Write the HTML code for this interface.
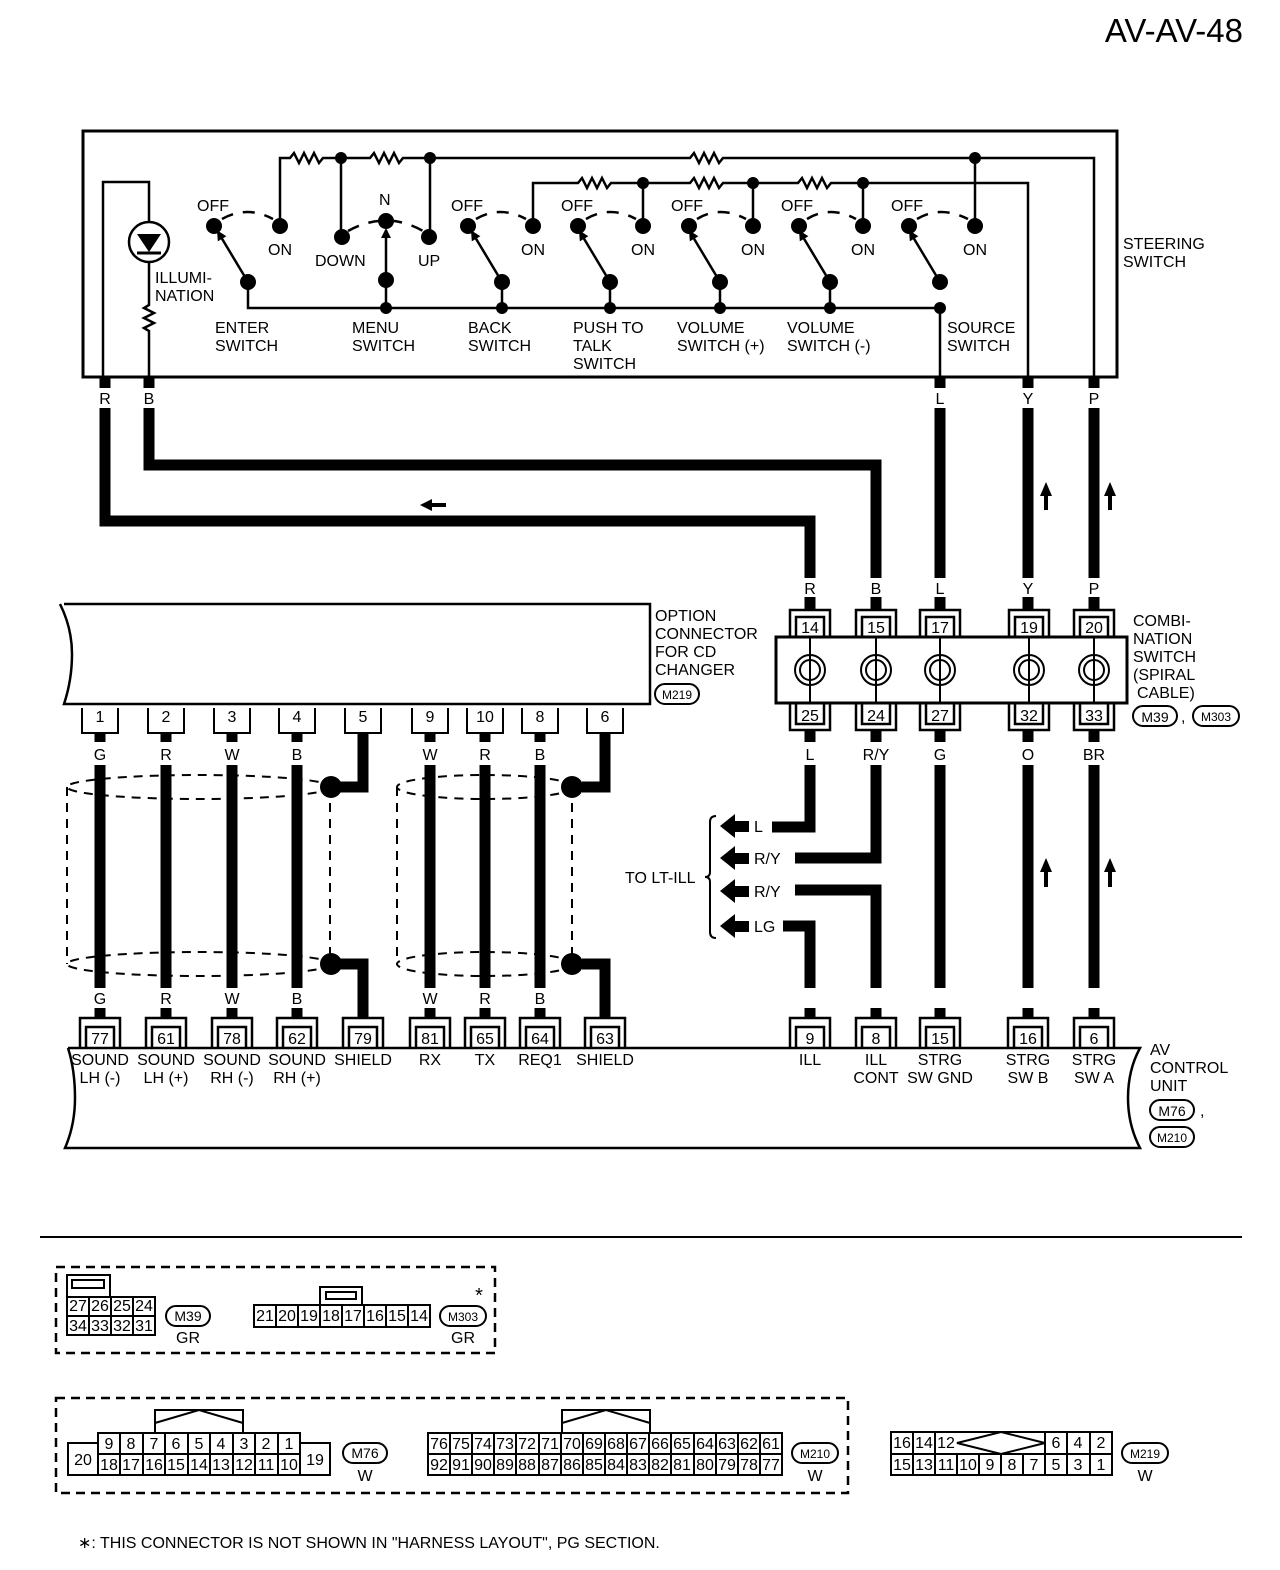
<!DOCTYPE html>
<html><head><meta charset="utf-8"><style>
html,body{margin:0;padding:0;background:#fff}
svg{display:block}
text{font-family:"Liberation Sans",Arial,sans-serif;font-size:16px;fill:#000}
</style></head><body>
<svg width="1280" height="1570" viewBox="0 0 1280 1570" xmlns="http://www.w3.org/2000/svg">
<defs>
<marker id="ah" markerWidth="10" markerHeight="10" refX="8" refY="5" orient="auto" markerUnits="userSpaceOnUse"><path d="M0,0 L10,5 L0,10 z" fill="#000"/></marker>
</defs>
<text x="1243" y="42" text-anchor="end" style="font-size:33px">AV-AV-48</text>

<rect x="83" y="131" width="1034" height="246" fill="none" stroke="#000" stroke-width="3"/>
<g fill="none" stroke="#000" stroke-width="2.5">
<path d="M103 377 V182 H149 V222"/>
<circle cx="149" cy="242" r="20"/>
<path d="M149 262 V305 l-5 3 l10 5 l-10 5 l10 5 l-10 5 l5 3 V377"/>
<path d="M280 226 V158 H290 l4 -5 l5 10 l5 -10 l5 10 l5 -10 l5 10 l4 -5 H370 l4 -5 l5 10 l5 -10 l5 10 l5 -10 l5 10 l4 -5 H690 l4 -5 l5 10 l5 -10 l5 10 l5 -10 l5 10 l4 -5 H1094 V377"/>
<path d="M341 158 V237 M430 158 V237 M975 158 V226"/>
<path d="M533 226 V183 H578 l4 -5 l5 10 l5 -10 l5 10 l5 -10 l5 10 l4 -5 H690 l4 -5 l5 10 l5 -10 l5 10 l5 -10 l5 10 l4 -5 H798 l4 -5 l5 10 l5 -10 l5 10 l5 -10 l5 10 l4 -5 H1028 V377"/>
<path d="M643 183 V226 M753 183 V226 M863 183 V226"/>
<path d="M248 282 V308 H940 V377"/>
<path d="M386 280 V308 M502 282 V308 M610 282 V308 M720 282 V308 M830 282 V308"/>
<path d="M248 282 L218 232" marker-end="url(#ah)"/>
<path d="M502 282 L472 232" marker-end="url(#ah)"/>
<path d="M610 282 L580 232" marker-end="url(#ah)"/>
<path d="M720 282 L690 232" marker-end="url(#ah)"/>
<path d="M830 282 L800 232" marker-end="url(#ah)"/>
<path d="M940 282 L910 232" marker-end="url(#ah)"/>
<path d="M386 280 V230" marker-end="url(#ah)"/>
</g>
<g fill="none" stroke="#000" stroke-width="2.5" stroke-dasharray="12 10">
<path d="M222 219 Q247 205 273 219"/>
<path d="M476 219 Q500 205 526 219"/>
<path d="M586 219 Q610 205 636 219"/>
<path d="M697 219 Q720 205 746 219"/>
<path d="M807 219 Q830 205 856 219"/>
<path d="M917 219 Q940 205 968 219"/>
<path d="M348 231 Q386 210 423 231"/>
</g>
<path d="M137 234 H161 L149 252 Z" fill="#000"/>
<path d="M137 253 H161" stroke="#000" stroke-width="3"/>
<g fill="#000">
<circle cx="341" cy="158" r="6"/><circle cx="430" cy="158" r="6"/><circle cx="975" cy="158" r="6"/>
<circle cx="643" cy="183" r="6"/><circle cx="753" cy="183" r="6"/><circle cx="863" cy="183" r="6"/>
<circle cx="386" cy="308" r="6"/><circle cx="502" cy="308" r="6"/><circle cx="610" cy="308" r="6"/><circle cx="720" cy="308" r="6"/><circle cx="830" cy="308" r="6"/><circle cx="940" cy="308" r="6"/>
<circle cx="214" cy="226" r="8"/><circle cx="280" cy="226" r="8"/><circle cx="248" cy="282" r="8"/>
<circle cx="342" cy="237" r="8"/><circle cx="386" cy="221" r="8"/><circle cx="429" cy="237" r="8"/><circle cx="386" cy="280" r="8"/>
<circle cx="468" cy="226" r="8"/><circle cx="533" cy="226" r="8"/><circle cx="502" cy="282" r="8"/>
<circle cx="578" cy="226" r="8"/><circle cx="643" cy="226" r="8"/><circle cx="610" cy="282" r="8"/>
<circle cx="689" cy="226" r="8"/><circle cx="753" cy="226" r="8"/><circle cx="720" cy="282" r="8"/>
<circle cx="799" cy="226" r="8"/><circle cx="863" cy="226" r="8"/><circle cx="830" cy="282" r="8"/>
<circle cx="909" cy="226" r="8"/><circle cx="975" cy="226" r="8"/><circle cx="940" cy="282" r="8"/>
</g>
<g>
<text x="197" y="211">OFF</text><text x="268" y="255">ON</text>
<text x="379" y="205">N</text><text x="315" y="266">DOWN</text><text x="418" y="266">UP</text>
<text x="451" y="211">OFF</text><text x="521" y="255">ON</text>
<text x="561" y="211">OFF</text><text x="631" y="255">ON</text>
<text x="671" y="211">OFF</text><text x="741" y="255">ON</text>
<text x="781" y="211">OFF</text><text x="851" y="255">ON</text>
<text x="891" y="211">OFF</text><text x="963" y="255">ON</text>
<text x="155" y="283">ILLUMI-</text><text x="155" y="301">NATION</text>
<text x="215" y="333">ENTER</text><text x="215" y="351">SWITCH</text>
<text x="352" y="333">MENU</text><text x="352" y="351">SWITCH</text>
<text x="468" y="333">BACK</text><text x="468" y="351">SWITCH</text>
<text x="573" y="333">PUSH TO</text><text x="573" y="351">TALK</text><text x="573" y="369">SWITCH</text>
<text x="677" y="333">VOLUME</text><text x="677" y="351">SWITCH (+)</text>
<text x="787" y="333">VOLUME</text><text x="787" y="351">SWITCH (-)</text>
<text x="947" y="333">SOURCE</text><text x="947" y="351">SWITCH</text>
<text x="1123" y="249">STEERING</text><text x="1123" y="267">SWITCH</text>
</g>

<g fill="none" stroke="#000" stroke-width="11">
<path d="M105 377 V388 M149 377 V388 M940 377 V388 M1028 377 V388 M1094 377 V388"/>
<path d="M105 408 V521 H810 V578"/>
<path d="M149 408 V465 H876 V578"/>
<path d="M940 408 V578 M1028 408 V578 M1094 408 V578"/>
<path d="M810 597 V610 M876 597 V610 M940 597 V610 M1028 597 V610 M1094 597 V610"/>
</g>
<g text-anchor="middle">
<text x="105" y="404">R</text><text x="149" y="404">B</text><text x="940" y="404">L</text><text x="1028" y="404">Y</text><text x="1094" y="404">P</text>
<text x="810" y="594">R</text><text x="876" y="594">B</text><text x="940" y="594">L</text><text x="1028" y="594">Y</text><text x="1094" y="594">P</text>
</g>
<path d="M420 505 L432 499 V503 H446 V507 H432 V511 Z" fill="#000"/>
<path d="M1046 482 L1040 496 H1044 V510 H1048 V496 H1052 Z M1110 482 L1104 496 H1108 V510 H1112 V496 H1116 Z" fill="#000"/>

<rect x="776" y="637" width="351" height="66" fill="none" stroke="#000" stroke-width="3"/>
<g fill="none" stroke="#000" stroke-width="2.5">
<path d="M790 637 V610 H830 V637 M856 637 V610 H896 V637 M920 637 V610 H960 V637 M1009 637 V610 H1049 V637 M1074 637 V610 H1114 V637"/>
<path d="M796 637 V617 H824 V637 Z M862 637 V617 H890 V637 Z M926 637 V617 H954 V637 Z M1015 637 V617 H1043 V637 Z M1080 637 V617 H1108 V637 Z"/>
<path d="M790 703 V730 H830 V703 M856 703 V730 H896 V703 M920 703 V730 H960 V703 M1009 703 V730 H1049 V703 M1074 703 V730 H1114 V703"/>
<path d="M796 703 V724 H824 V703 Z M862 703 V724 H890 V703 Z M926 703 V724 H954 V703 Z M1015 703 V724 H1043 V703 Z M1080 703 V724 H1108 V703 Z"/>
</g>
<g fill="none" stroke="#000" stroke-width="2">
<g transform="translate(810,670)"><circle r="15"/><circle r="10"/><path d="M0 -33 V33"/></g>
<g transform="translate(876,670)"><circle r="15"/><circle r="10"/><path d="M0 -33 V33"/></g>
<g transform="translate(940,670)"><circle r="15"/><circle r="10"/><path d="M0 -33 V33"/></g>
<g transform="translate(1029,670)"><circle r="15"/><circle r="10"/><path d="M0 -33 V33"/></g>
<g transform="translate(1094,670)"><circle r="15"/><circle r="10"/><path d="M0 -33 V33"/></g>
</g>
<g text-anchor="middle">
<text x="810" y="633">14</text><text x="876" y="633">15</text><text x="940" y="633">17</text><text x="1029" y="633">19</text><text x="1094" y="633">20</text>
<text x="810" y="721">25</text><text x="876" y="721">24</text><text x="940" y="721">27</text><text x="1029" y="721">32</text><text x="1094" y="721">33</text>
<text x="810" y="760">L</text><text x="876" y="760">R/Y</text><text x="940" y="760">G</text><text x="1028" y="760">O</text><text x="1094" y="760">BR</text>
</g>
<g><text x="1133" y="626">COMBI-</text><text x="1133" y="644">NATION</text><text x="1133" y="662">SWITCH</text><text x="1133" y="680">(SPIRAL</text><text x="1137" y="698">CABLE)</text>
<rect x="1133" y="706" width="44" height="20" rx="10" fill="none" stroke="#000" stroke-width="2"/><text x="1155" y="722" text-anchor="middle" style="font-size:14px">M39</text>
<text x="1181" y="722">,</text>
<rect x="1193" y="706" width="46" height="20" rx="10" fill="none" stroke="#000" stroke-width="2"/><text x="1216" y="721" text-anchor="middle" style="font-size:12px">M303</text>
</g>

<g fill="none" stroke="#000" stroke-width="11">
<path d="M810 730 V742 M876 730 V742 M940 730 V742 M1028 730 V742 M1094 730 V742"/>
<path d="M810 765 V827 H772"/>
<path d="M876 765 V858 H795"/>
<path d="M795 890 H876 V988"/>
<path d="M783 926 H810 V988"/>
<path d="M940 765 V988 M1028 765 V988 M1094 765 V988"/>
<path d="M810 1008 V1018 M876 1008 V1018 M940 1008 V1018 M1028 1008 V1018 M1094 1008 V1018"/>
</g>
<g fill="#000">
<path d="M720 826 L735 814 V838 Z M733 821 H749 V832 H733 Z"/>
<path d="M720 858 L735 846 V870 Z M733 853 H749 V864 H733 Z"/>
<path d="M720 891 L735 879 V903 Z M733 886 H749 V897 H733 Z"/>
<path d="M720 926 L735 914 V938 Z M733 921 H749 V932 H733 Z"/>
<path d="M1046 858 L1040 872 H1044 V887 H1048 V872 H1052 Z M1110 858 L1104 872 H1108 V887 H1112 V872 H1116 Z"/>
</g>
<path d="M716 816 Q710 816 710 822 V872 Q710 877 705 877 Q710 877 710 882 V932 Q710 938 716 938" fill="none" stroke="#000" stroke-width="2"/>
<text x="754" y="832">L</text><text x="754" y="864">R/Y</text><text x="754" y="897">R/Y</text><text x="754" y="932">LG</text>
<text x="625" y="883">TO LT-ILL</text>

<path d="M64 604 H650 V704 H64 Q72 680 72 654 Q72 628 60 604" fill="none" stroke="#000" stroke-width="2.5"/>
<g><text x="655" y="621">OPTION</text><text x="655" y="639">CONNECTOR</text><text x="655" y="657">FOR CD</text><text x="655" y="675">CHANGER</text>
<rect x="655" y="684" width="44" height="20" rx="10" fill="none" stroke="#000" stroke-width="2"/><text x="677" y="699" text-anchor="middle" style="font-size:12px">M219</text></g>
<g fill="none" stroke="#000" stroke-width="2">
<path d="M82 708 V733 H118 V708 M148 708 V733 H184 V708 M214 708 V733 H250 V708 M279 708 V733 H315 V708 M345 708 V733 H381 V708 M412 708 V733 H448 V708 M467 708 V733 H503 V708 M522 708 V733 H558 V708 M587 708 V733 H623 V708"/>
</g>
<g text-anchor="middle">
<text x="100" y="722">1</text><text x="166" y="722">2</text><text x="232" y="722">3</text><text x="297" y="722">4</text><text x="363" y="722">5</text><text x="430" y="722">9</text><text x="485" y="722">10</text><text x="540" y="722">8</text><text x="605" y="722">6</text>
<text x="100" y="760">G</text><text x="166" y="760">R</text><text x="232" y="760">W</text><text x="297" y="760">B</text><text x="430" y="760">W</text><text x="485" y="760">R</text><text x="540" y="760">B</text>
<text x="100" y="1004">G</text><text x="166" y="1004">R</text><text x="232" y="1004">W</text><text x="297" y="1004">B</text><text x="430" y="1004">W</text><text x="485" y="1004">R</text><text x="540" y="1004">B</text>
</g>
<g fill="none" stroke="#000" stroke-width="11">
<path d="M100 733 V742 M166 733 V742 M232 733 V742 M297 733 V742 M430 733 V742 M485 733 V742 M540 733 V742"/>
<path d="M100 765 V988 M166 765 V988 M232 765 V988 M297 765 V988 M430 765 V988 M485 765 V988 M540 765 V988"/>
<path d="M100 1008 V1018 M166 1008 V1018 M232 1008 V1018 M297 1008 V1018 M430 1008 V1018 M485 1008 V1018 M540 1008 V1018"/>
<path d="M363 733 V787 H340 M340 964 H363 V1018 M605 733 V787 H582 M582 964 H605 V1018"/>
</g>
<g fill="none" stroke="#000" stroke-width="2" stroke-dasharray="9 7">
<ellipse cx="199" cy="787" rx="132" ry="12"/>
<ellipse cx="199" cy="964" rx="132" ry="12"/>
<path d="M67 787 V964 M330 787 V964"/>
<ellipse cx="485" cy="787" rx="88" ry="12"/>
<ellipse cx="485" cy="964" rx="88" ry="12"/>
<path d="M397 787 V964 M572 787 V964"/>
</g>
<g fill="#000"><circle cx="331" cy="787" r="11"/><circle cx="331" cy="964" r="11"/><circle cx="572" cy="787" r="11"/><circle cx="572" cy="964" r="11"/></g>

<path d="M68 1048 H1140 Q1128 1070 1128 1098 Q1128 1125 1140 1148 H65 Q75 1125 75 1098 Q75 1070 68 1048" fill="none" stroke="#000" stroke-width="2.5"/>
<g fill="none" stroke="#000" stroke-width="2.5">
<path d="M80 1048 V1018 H120 V1048 M146 1048 V1018 H186 V1048 M212 1048 V1018 H252 V1048 M277 1048 V1018 H317 V1048 M343 1048 V1018 H383 V1048 M410 1048 V1018 H450 V1048 M465 1048 V1018 H505 V1048 M520 1048 V1018 H560 V1048 M585 1048 V1018 H625 V1048"/>
<path d="M86 1048 V1027 H114 V1048 M152 1048 V1027 H180 V1048 M218 1048 V1027 H246 V1048 M283 1048 V1027 H311 V1048 M349 1048 V1027 H377 V1048 M416 1048 V1027 H444 V1048 M471 1048 V1027 H499 V1048 M526 1048 V1027 H554 V1048 M591 1048 V1027 H619 V1048"/>
<path d="M790 1048 V1018 H830 V1048 M856 1048 V1018 H896 V1048 M920 1048 V1018 H960 V1048 M1008 1048 V1018 H1048 V1048 M1074 1048 V1018 H1114 V1048"/>
<path d="M796 1048 V1027 H824 V1048 M862 1048 V1027 H890 V1048 M926 1048 V1027 H954 V1048 M1014 1048 V1027 H1042 V1048 M1080 1048 V1027 H1108 V1048"/>
</g>
<g text-anchor="middle">
<text x="100" y="1044">77</text><text x="166" y="1044">61</text><text x="232" y="1044">78</text><text x="297" y="1044">62</text><text x="363" y="1044">79</text><text x="430" y="1044">81</text><text x="485" y="1044">65</text><text x="540" y="1044">64</text><text x="605" y="1044">63</text>
<text x="810" y="1044">9</text><text x="876" y="1044">8</text><text x="940" y="1044">15</text><text x="1028" y="1044">16</text><text x="1094" y="1044">6</text>
</g>
<g text-anchor="middle">
<text x="100" y="1065">SOUND</text><text x="100" y="1083">LH (-)</text>
<text x="166" y="1065">SOUND</text><text x="166" y="1083">LH (+)</text>
<text x="232" y="1065">SOUND</text><text x="232" y="1083">RH (-)</text>
<text x="297" y="1065">SOUND</text><text x="297" y="1083">RH (+)</text>
<text x="363" y="1065">SHIELD</text><text x="430" y="1065">RX</text><text x="485" y="1065">TX</text><text x="540" y="1065">REQ1</text><text x="605" y="1065">SHIELD</text>
<text x="810" y="1065">ILL</text>
<text x="876" y="1065">ILL</text><text x="876" y="1083">CONT</text>
<text x="940" y="1065">STRG</text><text x="940" y="1083">SW GND</text>
<text x="1028" y="1065">STRG</text><text x="1028" y="1083">SW B</text>
<text x="1094" y="1065">STRG</text><text x="1094" y="1083">SW A</text>
</g>
<g><text x="1150" y="1055">AV</text><text x="1150" y="1073">CONTROL</text><text x="1150" y="1091">UNIT</text>
<rect x="1150" y="1100" width="44" height="20" rx="10" fill="none" stroke="#000" stroke-width="2"/><text x="1172" y="1116" text-anchor="middle" style="font-size:14px">M76</text><text x="1200" y="1116">,</text>
<rect x="1150" y="1127" width="44" height="20" rx="10" fill="none" stroke="#000" stroke-width="2"/><text x="1172" y="1142" text-anchor="middle" style="font-size:12px">M210</text></g>

<line x1="40" y1="1237" x2="1242" y2="1237" stroke="#000" stroke-width="2"/>

<g fill="none" stroke="#000" stroke-width="2.5" stroke-dasharray="9 6">
<rect x="56" y="1267" width="439" height="86"/>
<rect x="56" y="1398" width="792" height="95"/>
</g>
<g fill="none" stroke="#000" stroke-width="2">
<path d="M67 1297 V1275 H110 V1297"/><rect x="72" y="1280" width="32" height="8"/>
<rect x="67" y="1297" width="88" height="38"/><path d="M67 1316 H155 M89 1297 V1335 M111 1297 V1335 M133 1297 V1335"/>
<path d="M320 1305 V1287 H362 V1305"/><rect x="326" y="1292" width="30" height="7"/>
<rect x="254" y="1305" width="176" height="22"/>
<path d="M276 1305 V1327 M298 1305 V1327 M320 1305 V1327 M342 1305 V1327 M364 1305 V1327 M386 1305 V1327 M408 1305 V1327"/>
<rect x="155" y="1410" width="88" height="23"/><path d="M155 1423 L199 1410 L243 1423"/>
<rect x="98" y="1433" width="202" height="42"/><path d="M98 1454 H300"/>
<path d="M120 1433 V1475 M143 1433 V1475 M165 1433 V1475 M188 1433 V1475 M210 1433 V1475 M233 1433 V1475 M255 1433 V1475 M278 1433 V1475"/>
<path d="M98 1443 H68 V1475 H98 M300 1443 H330 V1475 H300"/>
<rect x="562" y="1410" width="88" height="23"/><path d="M562 1423 L606 1410 L650 1423"/>
<rect x="428" y="1433" width="354" height="42"/><path d="M428 1454 H782"/>
<path d="M450 1433 V1475 M472 1433 V1475 M494 1433 V1475 M516 1433 V1475 M539 1433 V1475 M561 1433 V1475 M583 1433 V1475 M605 1433 V1475 M627 1433 V1475 M649 1433 V1475 M671 1433 V1475 M694 1433 V1475 M716 1433 V1475 M738 1433 V1475 M760 1433 V1475"/>
<rect x="891" y="1432" width="221" height="43"/><path d="M891 1454 H1112"/>
<path d="M913 1432 V1475 M935 1432 V1475 M957 1454 V1475 M979 1454 V1475 M1001 1454 V1475 M1023 1454 V1475 M1045 1432 V1475 M1067 1432 V1475 M1090 1432 V1475"/>
<path d="M957 1443 L1001 1432 L1045 1443 L1001 1454 Z" fill="#fff"/>
</g>
<g style="font-size:13px" text-anchor="middle">
<text x="78" y="1311">27</text><text x="100" y="1311">26</text><text x="122" y="1311">25</text><text x="144" y="1311">24</text>
<text x="78" y="1331">34</text><text x="100" y="1331">33</text><text x="122" y="1331">32</text><text x="144" y="1331">31</text>
<text x="265" y="1321">21</text><text x="287" y="1321">20</text><text x="309" y="1321">19</text><text x="331" y="1321">18</text><text x="353" y="1321">17</text><text x="375" y="1321">16</text><text x="397" y="1321">15</text><text x="419" y="1321">14</text>
<text x="109" y="1449">9</text><text x="131" y="1449">8</text><text x="154" y="1449">7</text><text x="176" y="1449">6</text><text x="199" y="1449">5</text><text x="221" y="1449">4</text><text x="244" y="1449">3</text><text x="266" y="1449">2</text><text x="289" y="1449">1</text>
<text x="109" y="1470">18</text><text x="131" y="1470">17</text><text x="154" y="1470">16</text><text x="176" y="1470">15</text><text x="199" y="1470">14</text><text x="221" y="1470">13</text><text x="244" y="1470">12</text><text x="266" y="1470">11</text><text x="289" y="1470">10</text>
<text x="83" y="1465">20</text><text x="315" y="1465">19</text>
<text x="439" y="1449">76</text><text x="461" y="1449">75</text><text x="483" y="1449">74</text><text x="505" y="1449">73</text><text x="527" y="1449">72</text><text x="550" y="1449">71</text><text x="572" y="1449">70</text><text x="594" y="1449">69</text><text x="616" y="1449">68</text><text x="638" y="1449">67</text><text x="660" y="1449">66</text><text x="682" y="1449">65</text><text x="705" y="1449">64</text><text x="727" y="1449">63</text><text x="749" y="1449">62</text><text x="771" y="1449">61</text>
<text x="439" y="1470">92</text><text x="461" y="1470">91</text><text x="483" y="1470">90</text><text x="505" y="1470">89</text><text x="527" y="1470">88</text><text x="550" y="1470">87</text><text x="572" y="1470">86</text><text x="594" y="1470">85</text><text x="616" y="1470">84</text><text x="638" y="1470">83</text><text x="660" y="1470">82</text><text x="682" y="1470">81</text><text x="705" y="1470">80</text><text x="727" y="1470">79</text><text x="749" y="1470">78</text><text x="771" y="1470">77</text>
<text x="902" y="1448">16</text><text x="924" y="1448">14</text><text x="946" y="1448">12</text><text x="1056" y="1448">6</text><text x="1078" y="1448">4</text><text x="1101" y="1448">2</text>
<text x="902" y="1470">15</text><text x="924" y="1470">13</text><text x="946" y="1470">11</text><text x="968" y="1470">10</text><text x="990" y="1470">9</text><text x="1012" y="1470">8</text><text x="1034" y="1470">7</text><text x="1056" y="1470">5</text><text x="1078" y="1470">3</text><text x="1101" y="1470">1</text>
</g>
<g fill="none" stroke="#000" stroke-width="2">
<rect x="166" y="1306" width="44" height="20" rx="10"/><rect x="440" y="1306" width="46" height="20" rx="10"/>
<rect x="343" y="1443" width="44" height="20" rx="10"/><rect x="792" y="1443" width="46" height="20" rx="10"/><rect x="1122" y="1443" width="46" height="20" rx="10"/>
</g>
<g text-anchor="middle">
<text x="188" y="1321" style="font-size:14px">M39</text><text x="188" y="1343">GR</text>
<text x="463" y="1321" style="font-size:12px">M303</text><text x="463" y="1343">GR</text><text x="479" y="1302" style="font-size:20px">*</text>
<text x="365" y="1458" style="font-size:14px">M76</text><text x="365" y="1481">W</text>
<text x="815" y="1458" style="font-size:12px">M210</text><text x="815" y="1481">W</text>
<text x="1145" y="1458" style="font-size:12px">M219</text><text x="1145" y="1481">W</text>
</g>
<text x="78" y="1548">∗: THIS CONNECTOR IS NOT SHOWN IN "HARNESS LAYOUT", PG SECTION.</text>
</svg>
</body></html>
